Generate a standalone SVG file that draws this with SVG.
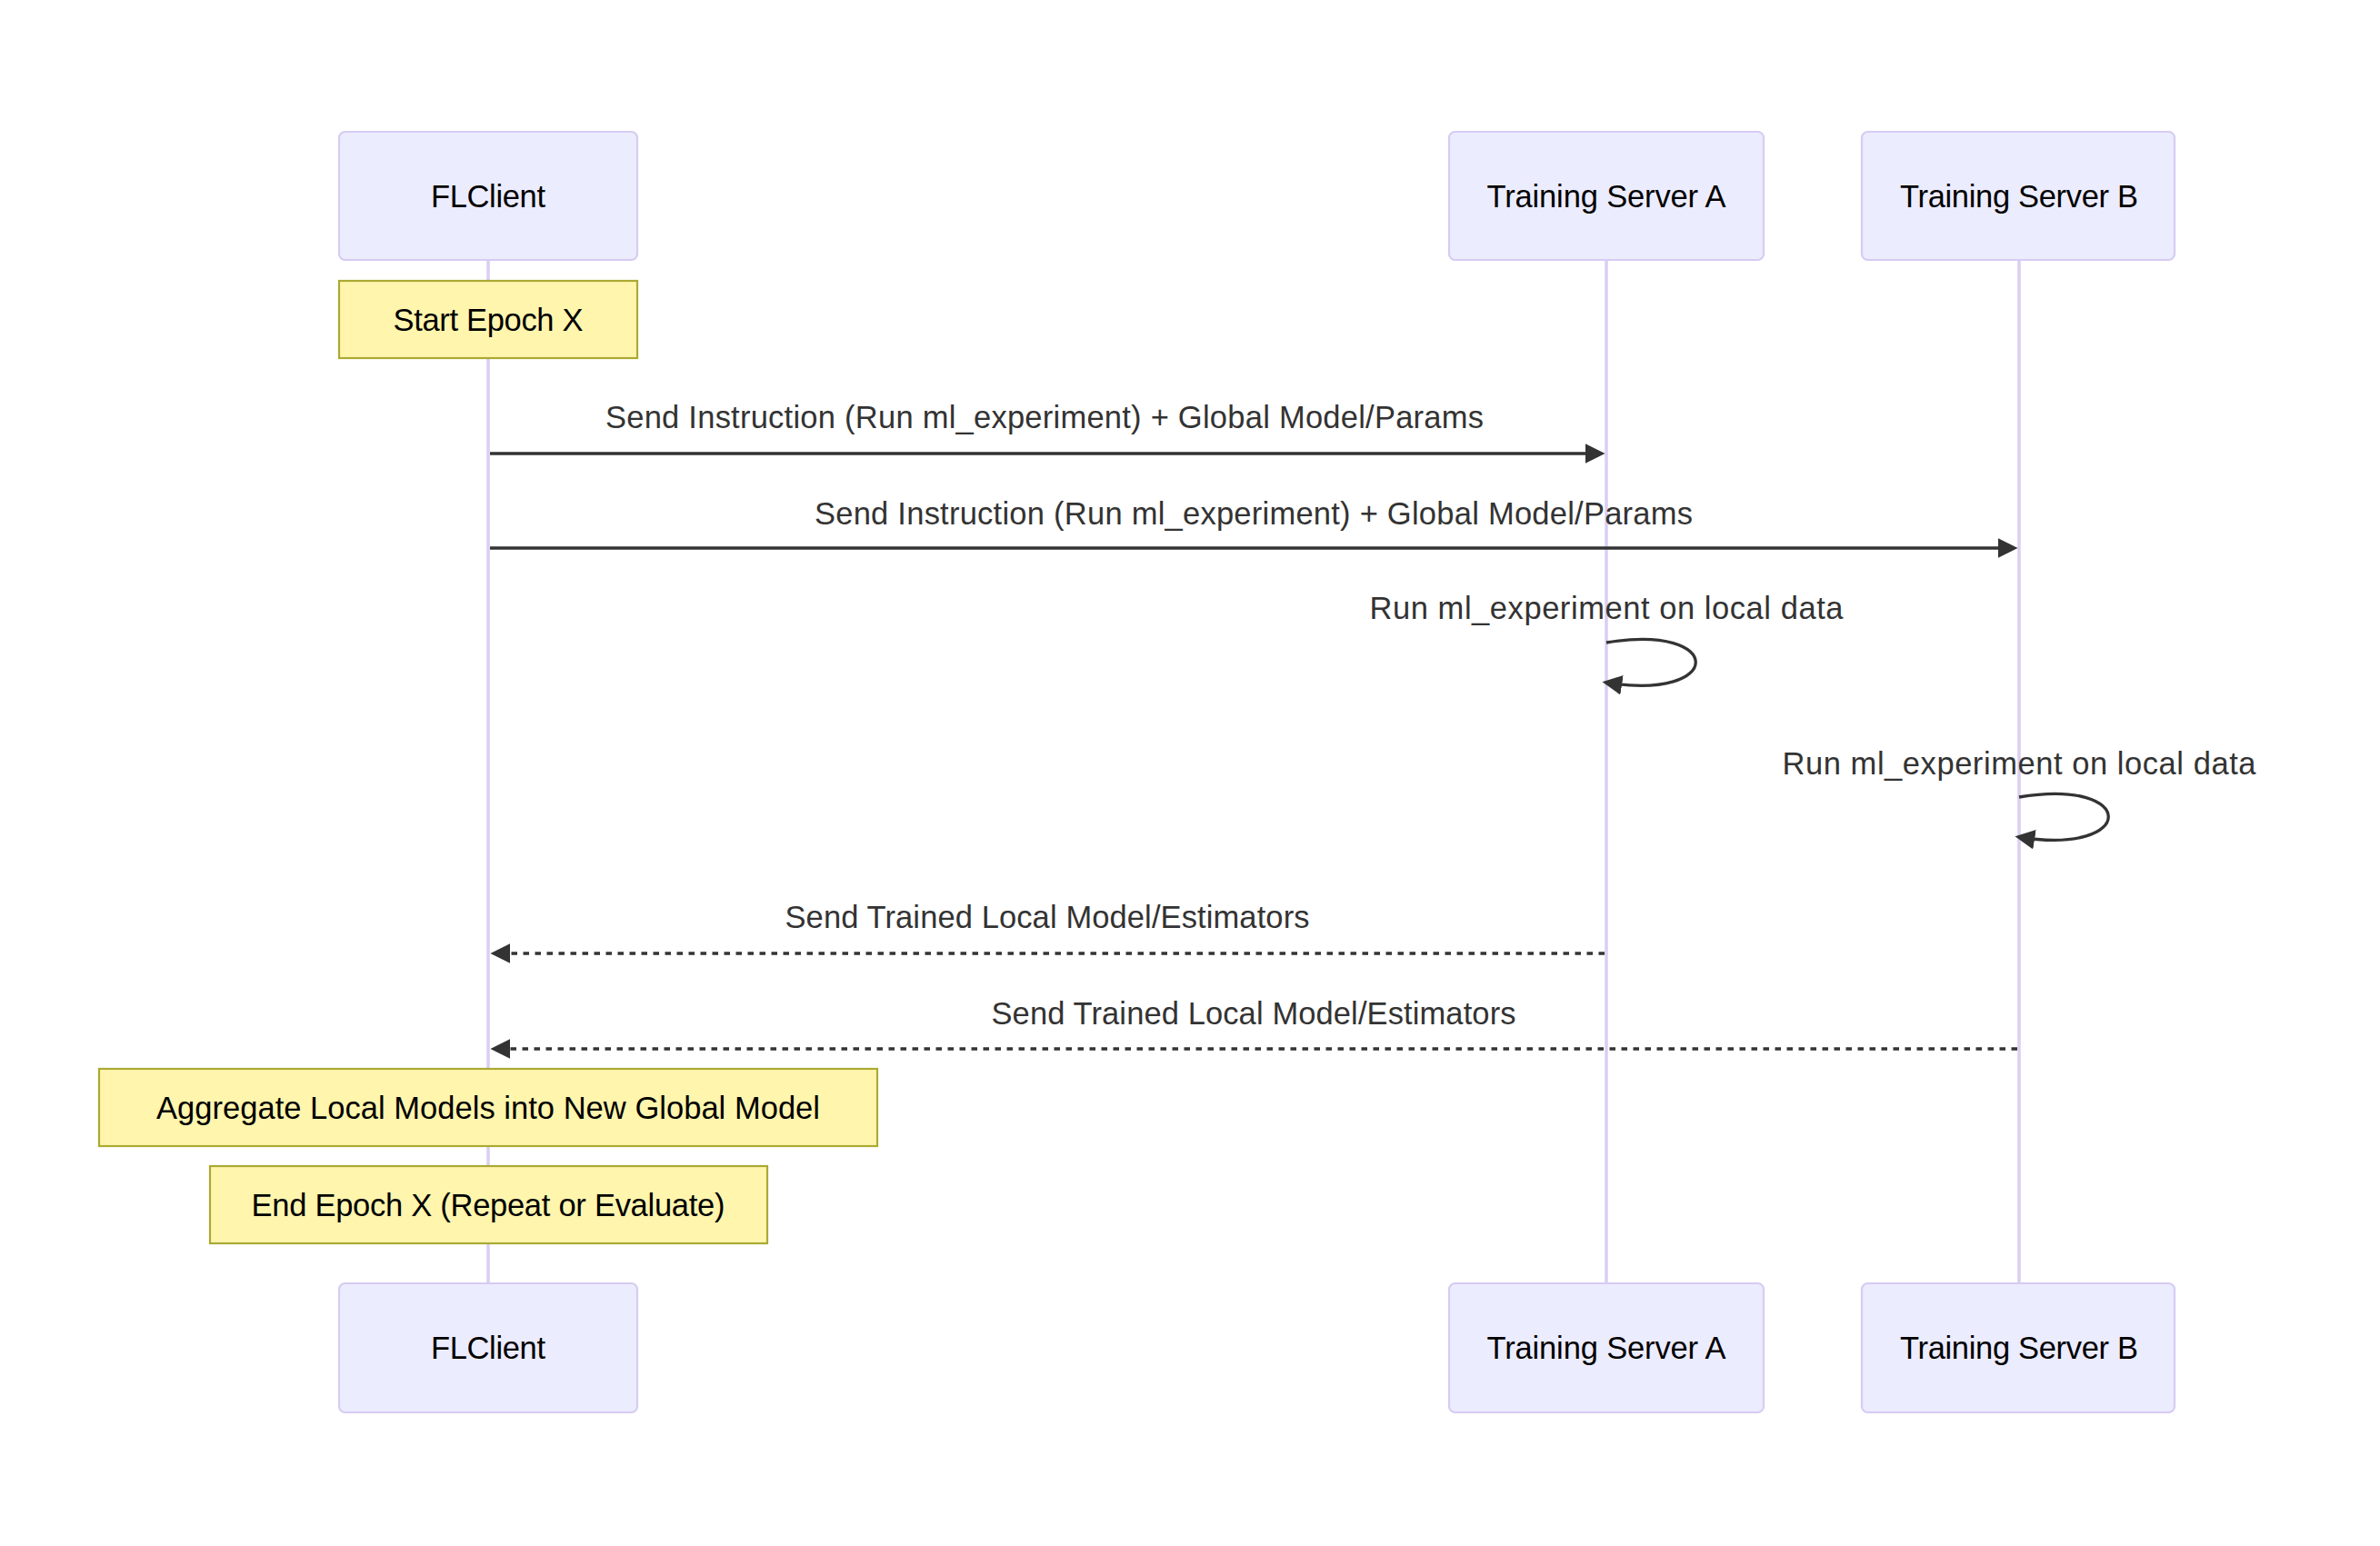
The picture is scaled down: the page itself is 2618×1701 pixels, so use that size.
<svg xmlns="http://www.w3.org/2000/svg" width="2618" height="1701" viewBox="0 0 2618 1701">
<defs>
<style>
.actor{fill:#ECECFF;stroke:#D6CCF3;stroke-width:2.2}
.atext{font-family:"Liberation Sans",Arial,sans-serif;font-size:34.5px;fill:#000;text-anchor:middle;dominant-baseline:central}
.life{stroke:#DACEF3;stroke-width:3.5}
.note{fill:#FFF5AD;stroke:#AAAA33;stroke-width:2.2}
.ntext{font-family:"Liberation Sans",Arial,sans-serif;font-size:34.5px;fill:#000;text-anchor:middle;dominant-baseline:central}
.mtext{font-family:"Liberation Sans",Arial,sans-serif;font-size:34.5px;fill:#333;text-anchor:middle;dominant-baseline:central}
.msg{stroke:#333;stroke-width:3.3;fill:none;marker-end:url(#arrow)}
.dash{stroke-dasharray:6.5,6.5}
</style>
<marker id="arrow" viewBox="0 0 10 10" refX="7.9" refY="5" markerUnits="userSpaceOnUse" markerWidth="21.8" markerHeight="21.8" orient="auto">
<path d="M0,0 L10,5 L0,10 z" fill="#333"/>
</marker>
</defs>
<rect width="2618" height="1701" fill="#fff"/>
<g id="lifelines">
<line class="life" x1="537" y1="286" x2="537" y2="1412"/>
<line class="life" x1="1767" y1="286" x2="1767" y2="1412"/>
<line class="life" x1="2221" y1="286" x2="2221" y2="1412"/>
</g>
<g id="actor-flclient-top"><rect class="actor" x="373" y="145" width="328" height="141" rx="6.5"/><text class="atext" x="537" y="215.5" textLength="126">FLClient</text></g>
<g id="actor-serverA-top"><rect class="actor" x="1594" y="145" width="346" height="141" rx="6.5"/><text class="atext" x="1767" y="215.5" textLength="263">Training Server A</text></g>
<g id="actor-serverB-top"><rect class="actor" x="2048" y="145" width="344" height="141" rx="6.5"/><text class="atext" x="2221" y="215.5" textLength="262">Training Server B</text></g>
<g id="actor-flclient-bottom"><rect class="actor" x="373" y="1412" width="328" height="142" rx="6.5"/><text class="atext" x="537" y="1483" textLength="126">FLClient</text></g>
<g id="actor-serverA-bottom"><rect class="actor" x="1594" y="1412" width="346" height="142" rx="6.5"/><text class="atext" x="1767" y="1483" textLength="263">Training Server A</text></g>
<g id="actor-serverB-bottom"><rect class="actor" x="2048" y="1412" width="344" height="142" rx="6.5"/><text class="atext" x="2221" y="1483" textLength="262">Training Server B</text></g>
<g id="note-start"><rect class="note" x="373" y="309" width="328" height="85"/><text class="ntext" x="537" y="351.5" textLength="209">Start Epoch X</text></g>
<g id="note-aggregate"><rect class="note" x="109" y="1176" width="856" height="85"/><text class="ntext" x="537" y="1218.5" textLength="730">Aggregate Local Models into New Global Model</text></g>
<g id="note-end"><rect class="note" x="231" y="1283" width="613" height="85"/><text class="ntext" x="537" y="1325.5" textLength="521">End Epoch X (Repeat or Evaluate)</text></g>
<g id="connectors">
<line class="msg" x1="539" y1="499" x2="1761" y2="499"/>
<text class="mtext" x="1149" y="459" textLength="966">Send Instruction (Run ml_experiment) + Global Model/Params</text>
<line class="msg" x1="539" y1="603" x2="2215" y2="603"/>
<text class="mtext" x="1379" y="565" textLength="966">Send Instruction (Run ml_experiment) + Global Model/Params</text>
<path class="msg" d="M1767,707 C1898,685 1898,772 1767,751"/>
<text class="mtext" x="1767" y="669" textLength="521">Run ml_experiment on local data</text>
<path class="msg" d="M2221,877 C2352,855 2352,942 2221,921"/>
<text class="mtext" x="2221" y="840" textLength="521">Run ml_experiment on local data</text>
<line class="msg dash" x1="1765" y1="1049" x2="544" y2="1049"/>
<text class="mtext" x="1152" y="1009" textLength="577">Send Trained Local Model/Estimators</text>
<line class="msg dash" x1="2219" y1="1154" x2="544" y2="1154"/>
<text class="mtext" x="1379" y="1115" textLength="577">Send Trained Local Model/Estimators</text>
</g>
</svg>
